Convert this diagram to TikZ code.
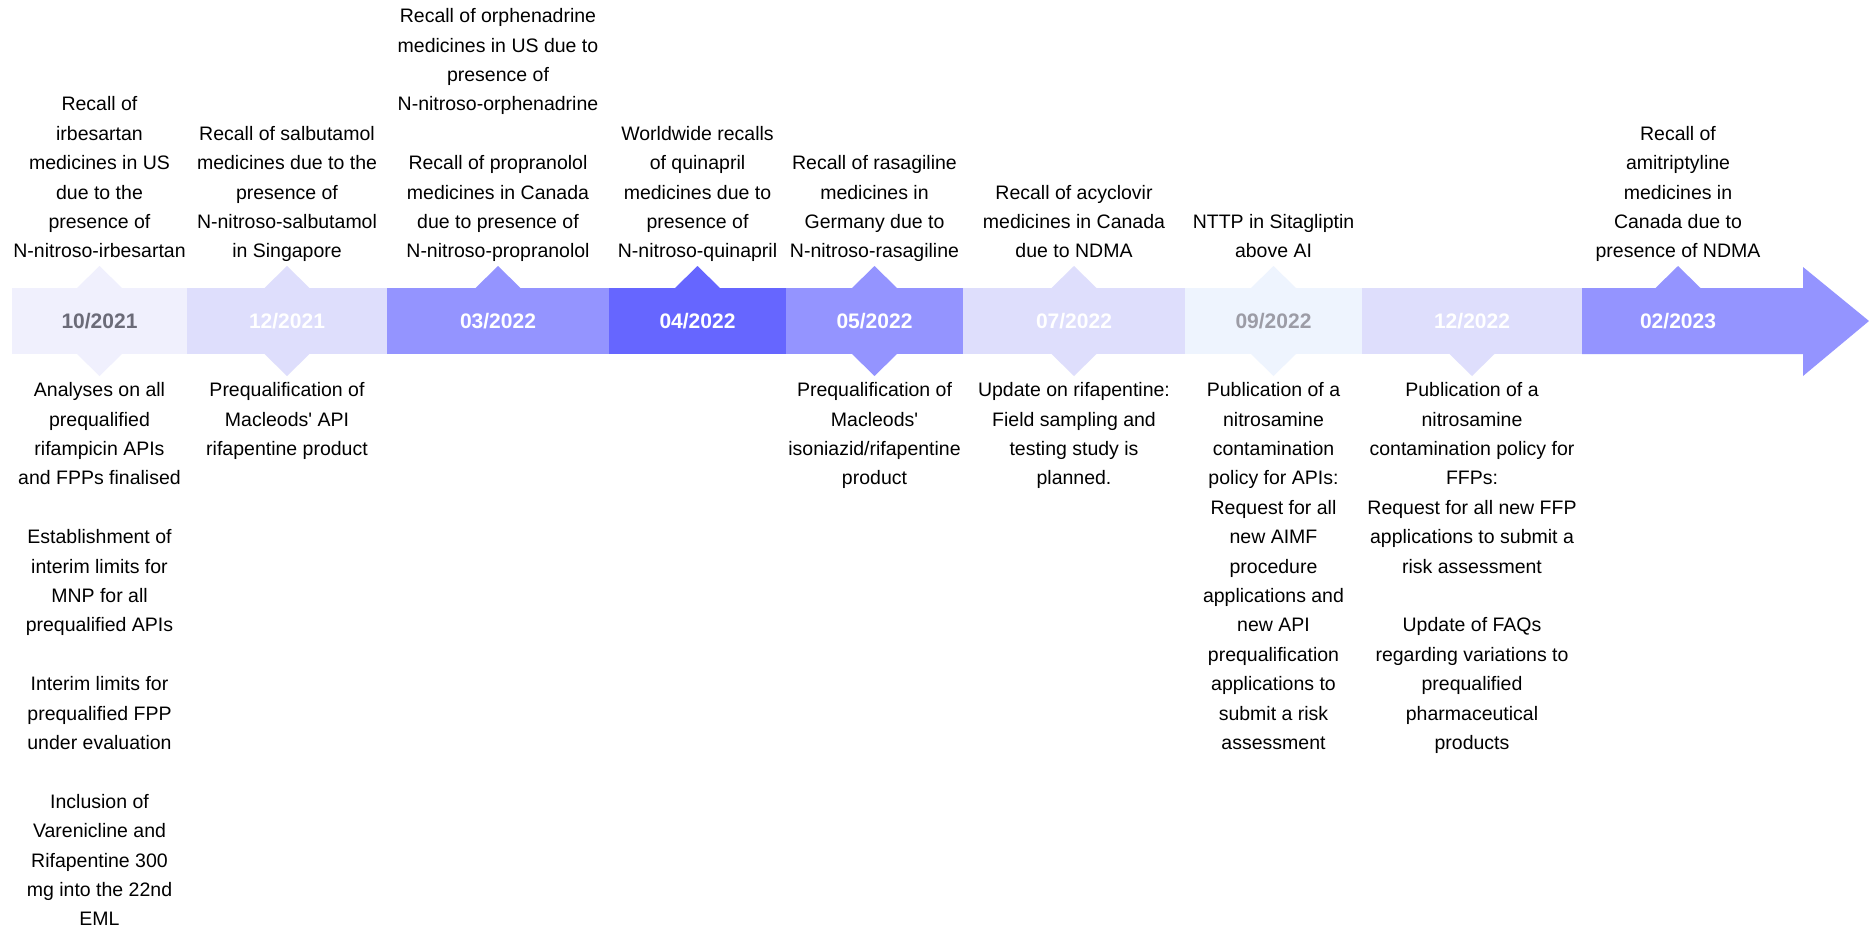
\documentclass[tikz,border=0pt]{standalone}
\usepackage{fontspec}
\setmainfont{Liberation Sans}
\definecolor{cA}{HTML}{F0F0FD}
\definecolor{cB}{HTML}{DEDEFC}
\definecolor{cC}{HTML}{9494FF}
\definecolor{cD}{HTML}{6666FF}
\definecolor{cE}{HTML}{EEF4FE}
\definecolor{tA}{HTML}{6B6B78}
\definecolor{tE}{HTML}{9C9CA6}
\begin{document}
\begin{tikzpicture}[x=1pt,y=-1pt,
  seg/.style={rectangle, inner sep=0, minimum height=66pt, text=white,
    font=\fontsize{21}{25}\selectfont\bfseries},
  evt/.style={align=center, inner sep=0, text=black,
    font=\fontsize{19.5}{29.4}\selectfont},
  evtup/.style={evt, anchor=south},
  evtdn/.style={evt, anchor=north}]
\useasboundingbox (0,0) rectangle (1869,931);
\fill[white] (0,0) rectangle (1869,931);
% bar segments
\node[seg, fill=cA, text=tA, minimum width=175pt] (s1) at (99.5,321) {10/2021};
\node[seg, fill=cB, minimum width=200pt] (s2) at (287,321) {12/2021};
\node[seg, fill=cC, minimum width=222pt] (s3) at (498,321) {03/2022};
\node[seg, fill=cD, minimum width=177pt] (s4) at (697.5,321) {04/2022};
\node[seg, fill=cC, minimum width=177pt] (s5) at (874.5,321) {05/2022};
\node[seg, fill=cB, minimum width=222pt] (s6) at (1074,321) {07/2022};
\node[seg, fill=cE, text=tE, minimum width=177pt] (s7) at (1273.5,321) {09/2022};
\node[seg, fill=cB, minimum width=220pt] (s8) at (1472,321) {12/2022};
\fill[cC] (1582,288) -- (1803,288) -- (1803,267) -- (1869,321) -- (1803,376) -- (1803,354) -- (1582,354) -- cycle;
\node[seg, text=white] (s9) at (1678,321) {02/2023};
% markers above
\foreach \x/\c in {99.5/cA, 287/cB, 498/cC, 697.5/cD, 874.5/cC, 1074/cB, 1273.5/cE, 1678/cC}
  \fill[\c] (\x-23,288.5) -- (\x,266) -- (\x+23,288.5) -- cycle;
% markers below
\foreach \x/\c in {99.5/cA, 287/cB, 874.5/cC, 1074/cB, 1273.5/cE, 1472/cB}
  \fill[\c] (\x-23,353.5) -- (\x,376) -- (\x+23,353.5) -- cycle;
% texts above
\node[evtup] (t1) at (99.5,267) {\strut Recall of\\ irbesartan\\ medicines in US\\ due to the\\ presence of\\ N-nitroso-irbesartan\strut};
\node[evtup] (t2) at (287,267) {\strut Recall of salbutamol\\ medicines due to the\\ presence of\\ N-nitroso-salbutamol\\ in Singapore\strut};
\node[evtup] (t3) at (498,267) {\strut Recall of orphenadrine\\ medicines in US due to\\ presence of\\ N-nitroso-orphenadrine\\[29.4pt] Recall of propranolol\\ medicines in Canada\\ due to presence of\\ N-nitroso-propranolol\strut};
\node[evtup] (t4) at (697.5,267) {\strut Worldwide recalls\\ of quinapril\\ medicines due to\\ presence of\\ N-nitroso-quinapril\strut};
\node[evtup] (t5) at (874.5,267) {\strut Recall of rasagiline\\ medicines in\\ Germany due to\\ N-nitroso-rasagiline\strut};
\node[evtup] (t6) at (1074,267) {\strut Recall of acyclovir\\ medicines in Canada\\ due to NDMA\strut};
\node[evtup] (t7) at (1273.5,267) {\strut NTTP in Sitagliptin\\ above AI\strut};
\node[evtup] (t9) at (1678,267) {\strut Recall of\\ amitriptyline\\ medicines in\\ Canada due to\\ presence of NDMA\strut};
% texts below
\node[evtdn] (b1) at (99.5,376) {\strut Analyses on all\\ prequalified\\ rifampicin APIs\\ and FPPs finalised\\[29.4pt] Establishment of\\ interim limits for\\ MNP for all\\ prequalified APIs\\[29.4pt] Interim limits for\\ prequalified FPP\\ under evaluation\\[29.4pt] Inclusion of\\ Varenicline and\\ Rifapentine 300\\ mg into the 22nd\\ EML\strut};
\node[evtdn] (b2) at (287,376) {\strut Prequalification of\\ Macleods\textquotesingle{} API\\ rifapentine product\strut};
\node[evtdn] (b5) at (874.5,376) {\strut Prequalification of\\ Macleods\textquotesingle\\ isoniazid/rifapentine\\ product\strut};
\node[evtdn] (b6) at (1074,376) {\strut Update on rifapentine:\\ Field sampling and\\ testing study is\\ planned.\strut};
\node[evtdn] (b7) at (1273.5,376) {\strut Publication of a\\ nitrosamine\\ contamination\\ policy for APIs:\\ Request for all\\ new AIMF\\ procedure\\ applications and\\ new API\\ prequalification\\ applications to\\ submit a risk\\ assessment\strut};
\node[evtdn] (b8) at (1472,376) {\strut Publication of a\\ nitrosamine\\ contamination policy for\\ FFPs:\\ Request for all new FFP\\ applications to submit a\\ risk assessment\\[29.4pt] Update of FAQs\\ regarding variations to\\ prequalified\\ pharmaceutical\\ products\strut};
\end{tikzpicture}
\end{document}
